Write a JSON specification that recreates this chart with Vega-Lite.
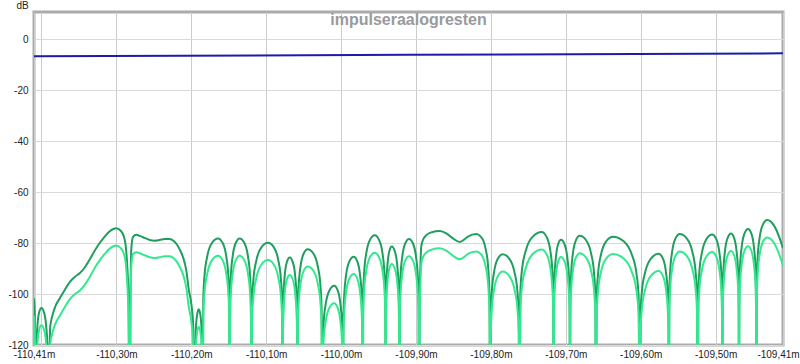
{
  "$schema": "https://vega.github.io/schema/vega-lite/v6.json",
  "width": 749,
  "height": 333,
  "autosize": {"type": "none"},
  "padding": {"left": 34, "top": 12, "right": 17, "bottom": 19},
  "background": "white",
  "title": {"text": "impulseraalogresten", "frame": "group", "anchor": "middle", "offset": -17, "dy": 24, "baseline": "alphabetic", "fontSize": 16, "fontWeight": "bold", "color": "#9a9a9a", "font": "Liberation Sans"},
  "config": {
    "view": {"stroke": "#ababab", "strokeWidth": 3},
    "axis": {"labelFont": "Liberation Sans", "titleFont": "Liberation Sans", "labelFontSize": 10, "labelColor": "#222222", "domain": false, "ticks": false, "gridColor": "#d6d6d6", "gridWidth": 1}
  },
  "datasets": {
    "blue": [
      {"t": -110.41, "v": -6.8},
      {"t": -109.91, "v": -6.2},
      {"t": -109.41, "v": -5.6}
    ],
    "g": [
      {"t": -110.4100, "a": -101.7, "b": -108.5},
      {"t": -110.4088, "a": -110, "b": -116.8},
      {"t": -110.4077, "a": -160, "b": -160},
      {"t": -110.4068, "a": -120, "b": -126.8},
      {"t": -110.4054, "a": -112.4, "b": -119.2},
      {"t": -110.4032, "a": -107.3, "b": -114.1},
      {"t": -110.4001, "a": -105.5, "b": -112.3},
      {"t": -110.3965, "a": -107.3, "b": -114.1},
      {"t": -110.3938, "a": -112.4, "b": -119.2},
      {"t": -110.3921, "a": -120, "b": -126.8},
      {"t": -110.3910, "a": -160, "b": -160},
      {"t": -110.3884, "a": -113, "b": -119.8},
      {"t": -110.3850, "a": -108, "b": -114.8},
      {"t": -110.3810, "a": -104.5, "b": -111.3},
      {"t": -110.3757, "a": -101.8, "b": -108.6},
      {"t": -110.3690, "a": -98.4, "b": -105.2},
      {"t": -110.3623, "a": -95.3, "b": -102.1},
      {"t": -110.3557, "a": -93.3, "b": -100.1},
      {"t": -110.3490, "a": -91.9, "b": -98.7},
      {"t": -110.3423, "a": -89.6, "b": -96.4},
      {"t": -110.3356, "a": -86.5, "b": -93.3},
      {"t": -110.3290, "a": -83, "b": -89.8},
      {"t": -110.3223, "a": -80, "b": -86.8},
      {"t": -110.3156, "a": -77.5, "b": -84.3},
      {"t": -110.3089, "a": -75.4, "b": -82.2},
      {"t": -110.3003, "a": -74.2, "b": -81},
      {"t": -110.2942, "a": -75.2, "b": -82},
      {"t": -110.2902, "a": -77.3, "b": -84.1},
      {"t": -110.2876, "a": -81, "b": -87.8},
      {"t": -110.2853, "a": -90, "b": -96.8},
      {"t": -110.2838, "a": -102, "b": -108.8},
      {"t": -110.2822, "a": -160, "b": -160},
      {"t": -110.2812, "a": -100, "b": -106.8},
      {"t": -110.2800, "a": -82, "b": -88.8},
      {"t": -110.2778, "a": -77.6, "b": -84.4},
      {"t": -110.2733, "a": -76.8, "b": -83.6},
      {"t": -110.2689, "a": -77.2, "b": -84},
      {"t": -110.2622, "a": -78, "b": -84.8},
      {"t": -110.2555, "a": -78.8, "b": -85.6},
      {"t": -110.2489, "a": -79.1, "b": -85.9},
      {"t": -110.2422, "a": -78.8, "b": -85.6},
      {"t": -110.2355, "a": -78.4, "b": -85.2},
      {"t": -110.2288, "a": -78.4, "b": -85.2},
      {"t": -110.2235, "a": -79.2, "b": -86},
      {"t": -110.2195, "a": -80.5, "b": -87.3},
      {"t": -110.2155, "a": -82.5, "b": -89.3},
      {"t": -110.2111, "a": -85.5, "b": -92.3},
      {"t": -110.2065, "a": -91, "b": -97.8},
      {"t": -110.2035, "a": -98, "b": -104.8},
      {"t": -110.1999, "a": -104, "b": -110.8},
      {"t": -110.1975, "a": -112, "b": -118.8},
      {"t": -110.1954, "a": -160, "b": -160},
      {"t": -110.1941, "a": -115, "b": -121.8},
      {"t": -110.1924, "a": -108.5, "b": -115.3},
      {"t": -110.1901, "a": -106, "b": -112.8},
      {"t": -110.1877, "a": -108.5, "b": -115.3},
      {"t": -110.1861, "a": -115, "b": -121.8},
      {"t": -110.1848, "a": -160, "b": -160},
      {"t": -110.1840, "a": -102.2, "b": -109},
      {"t": -110.1823, "a": -92.7, "b": -99.5},
      {"t": -110.1786, "a": -85.1, "b": -91.9},
      {"t": -110.1725, "a": -80, "b": -86.8},
      {"t": -110.1643, "a": -78.2, "b": -85},
      {"t": -110.1581, "a": -80, "b": -86.8},
      {"t": -110.1534, "a": -85.1, "b": -91.9},
      {"t": -110.1506, "a": -92.7, "b": -99.5},
      {"t": -110.1493, "a": -102.2, "b": -109},
      {"t": -110.1487, "a": -160, "b": -160},
      {"t": -110.1482, "a": -102.2, "b": -109},
      {"t": -110.1471, "a": -92.7, "b": -99.5},
      {"t": -110.1447, "a": -85.1, "b": -91.9},
      {"t": -110.1407, "a": -80, "b": -86.8},
      {"t": -110.1354, "a": -78.2, "b": -85},
      {"t": -110.1291, "a": -80, "b": -86.8},
      {"t": -110.1244, "a": -85.1, "b": -91.9},
      {"t": -110.1216, "a": -92.7, "b": -99.5},
      {"t": -110.1204, "a": -102.2, "b": -109},
      {"t": -110.1197, "a": -160, "b": -160},
      {"t": -110.1189, "a": -103.9, "b": -110.7},
      {"t": -110.1171, "a": -94.4, "b": -101.2},
      {"t": -110.1131, "a": -86.8, "b": -93.6},
      {"t": -110.1064, "a": -81.7, "b": -88.5},
      {"t": -110.0976, "a": -79.9, "b": -86.7},
      {"t": -110.0897, "a": -81.7, "b": -88.5},
      {"t": -110.0838, "a": -86.8, "b": -93.6},
      {"t": -110.0803, "a": -94.4, "b": -101.2},
      {"t": -110.0787, "a": -103.9, "b": -110.7},
      {"t": -110.0780, "a": -160, "b": -160},
      {"t": -110.0776, "a": -109.7, "b": -116.5},
      {"t": -110.0768, "a": -100.2, "b": -107},
      {"t": -110.0752, "a": -92.6, "b": -99.4},
      {"t": -110.0724, "a": -87.5, "b": -94.3},
      {"t": -110.0686, "a": -85.7, "b": -92.5},
      {"t": -110.0645, "a": -87.5, "b": -94.3},
      {"t": -110.0614, "a": -92.6, "b": -99.4},
      {"t": -110.0596, "a": -100.2, "b": -107},
      {"t": -110.0587, "a": -109.7, "b": -116.5},
      {"t": -110.0583, "a": -160, "b": -160},
      {"t": -110.0578, "a": -106.4, "b": -113.2},
      {"t": -110.0567, "a": -96.9, "b": -103.7},
      {"t": -110.0542, "a": -89.3, "b": -96.1},
      {"t": -110.0501, "a": -84.2, "b": -91},
      {"t": -110.0446, "a": -82.4, "b": -89.2},
      {"t": -110.0368, "a": -84.2, "b": -91},
      {"t": -110.0310, "a": -89.3, "b": -96.1},
      {"t": -110.0275, "a": -96.9, "b": -103.7},
      {"t": -110.0260, "a": -106.4, "b": -113.2},
      {"t": -110.0252, "a": -160, "b": -160},
      {"t": -110.0246, "a": -120.8, "b": -127.6},
      {"t": -110.0233, "a": -111.3, "b": -118.1},
      {"t": -110.0204, "a": -103.7, "b": -110.5},
      {"t": -110.0156, "a": -98.6, "b": -105.4},
      {"t": -110.0092, "a": -96.8, "b": -103.6},
      {"t": -110.0045, "a": -98.6, "b": -105.4},
      {"t": -110.0010, "a": -103.7, "b": -110.5},
      {"t": -109.9989, "a": -111.3, "b": -118.1},
      {"t": -109.9979, "a": -120.8, "b": -127.6},
      {"t": -109.9975, "a": -160, "b": -160},
      {"t": -109.9969, "a": -109.4, "b": -116.2},
      {"t": -109.9957, "a": -99.9, "b": -106.7},
      {"t": -109.9932, "a": -92.3, "b": -99.1},
      {"t": -109.9889, "a": -87.2, "b": -94},
      {"t": -109.9832, "a": -85.4, "b": -92.2},
      {"t": -109.9784, "a": -87.2, "b": -94},
      {"t": -109.9748, "a": -92.3, "b": -99.1},
      {"t": -109.9726, "a": -99.9, "b": -106.7},
      {"t": -109.9716, "a": -109.4, "b": -116.2},
      {"t": -109.9711, "a": -160, "b": -160},
      {"t": -109.9705, "a": -101, "b": -107.8},
      {"t": -109.9692, "a": -91.5, "b": -98.3},
      {"t": -109.9663, "a": -83.9, "b": -90.7},
      {"t": -109.9615, "a": -78.8, "b": -85.6},
      {"t": -109.9551, "a": -77, "b": -83.8},
      {"t": -109.9493, "a": -78.8, "b": -85.6},
      {"t": -109.9448, "a": -83.9, "b": -90.7},
      {"t": -109.9422, "a": -91.5, "b": -98.3},
      {"t": -109.9410, "a": -101, "b": -107.8},
      {"t": -109.9404, "a": -160, "b": -160},
      {"t": -109.9401, "a": -105.4, "b": -112.2},
      {"t": -109.9395, "a": -95.9, "b": -102.7},
      {"t": -109.9380, "a": -88.3, "b": -95.1},
      {"t": -109.9356, "a": -83.2, "b": -90},
      {"t": -109.9324, "a": -81.4, "b": -88.2},
      {"t": -109.9283, "a": -83.2, "b": -90},
      {"t": -109.9252, "a": -88.3, "b": -95.1},
      {"t": -109.9234, "a": -95.9, "b": -102.7},
      {"t": -109.9226, "a": -105.4, "b": -112.2},
      {"t": -109.9221, "a": -160, "b": -160},
      {"t": -109.9216, "a": -102.4, "b": -109.2},
      {"t": -109.9206, "a": -92.9, "b": -99.7},
      {"t": -109.9183, "a": -85.3, "b": -92.1},
      {"t": -109.9145, "a": -80.2, "b": -87},
      {"t": -109.9093, "a": -78.4, "b": -85.2},
      {"t": -109.9040, "a": -80.2, "b": -87},
      {"t": -109.9000, "a": -85.3, "b": -92.1},
      {"t": -109.8976, "a": -92.9, "b": -99.7},
      {"t": -109.8965, "a": -102.4, "b": -109.2},
      {"t": -109.8960, "a": -160, "b": -160},
      {"t": -109.8950, "a": -100, "b": -106.8},
      {"t": -109.8940, "a": -88, "b": -94.8},
      {"t": -109.8928, "a": -81, "b": -87.8},
      {"t": -109.8897, "a": -78.2, "b": -85},
      {"t": -109.8861, "a": -76.9, "b": -83.7},
      {"t": -109.8790, "a": -75.8, "b": -82.6},
      {"t": -109.8683, "a": -75.3, "b": -82.1},
      {"t": -109.8590, "a": -76.3, "b": -83.1},
      {"t": -109.8506, "a": -78.2, "b": -85},
      {"t": -109.8416, "a": -79.6, "b": -86.4},
      {"t": -109.8363, "a": -78.8, "b": -85.6},
      {"t": -109.8306, "a": -77.5, "b": -84.3},
      {"t": -109.8193, "a": -76.5, "b": -83.3},
      {"t": -109.8136, "a": -77.5, "b": -84.3},
      {"t": -109.8105, "a": -78.8, "b": -85.6},
      {"t": -109.8069, "a": -82.5, "b": -89.3},
      {"t": -109.8039, "a": -88.6, "b": -95.4},
      {"t": -109.8019, "a": -100, "b": -106.8},
      {"t": -109.8007, "a": -160, "b": -160},
      {"t": -109.8000, "a": -108.4, "b": -115.2},
      {"t": -109.7987, "a": -98.9, "b": -105.7},
      {"t": -109.7957, "a": -91.3, "b": -98.1},
      {"t": -109.7908, "a": -86.2, "b": -93},
      {"t": -109.7842, "a": -84.4, "b": -91.2},
      {"t": -109.7753, "a": -86.2, "b": -93},
      {"t": -109.7686, "a": -91.3, "b": -98.1},
      {"t": -109.7646, "a": -98.9, "b": -105.7},
      {"t": -109.7628, "a": -108.4, "b": -115.2},
      {"t": -109.7619, "a": -160, "b": -160},
      {"t": -109.7607, "a": -99.7, "b": -106.5},
      {"t": -109.7584, "a": -90.2, "b": -97},
      {"t": -109.7530, "a": -82.6, "b": -89.4},
      {"t": -109.7441, "a": -77.5, "b": -84.3},
      {"t": -109.7322, "a": -75.7, "b": -82.5},
      {"t": -109.7258, "a": -77.5, "b": -84.3},
      {"t": -109.7209, "a": -82.6, "b": -89.4},
      {"t": -109.7181, "a": -90.2, "b": -97},
      {"t": -109.7168, "a": -99.7, "b": -106.5},
      {"t": -109.7161, "a": -160, "b": -160},
      {"t": -109.7158, "a": -102.7, "b": -109.5},
      {"t": -109.7150, "a": -93.2, "b": -100},
      {"t": -109.7132, "a": -85.6, "b": -92.4},
      {"t": -109.7103, "a": -80.5, "b": -87.3},
      {"t": -109.7064, "a": -78.7, "b": -85.5},
      {"t": -109.7016, "a": -80.5, "b": -87.3},
      {"t": -109.6980, "a": -85.6, "b": -92.4},
      {"t": -109.6958, "a": -93.2, "b": -100},
      {"t": -109.6949, "a": -102.7, "b": -109.5},
      {"t": -109.6944, "a": -160, "b": -160},
      {"t": -109.6939, "a": -101.2, "b": -108},
      {"t": -109.6928, "a": -91.7, "b": -98.5},
      {"t": -109.6905, "a": -84.1, "b": -90.9},
      {"t": -109.6866, "a": -79, "b": -85.8},
      {"t": -109.6814, "a": -77.2, "b": -84},
      {"t": -109.6727, "a": -79, "b": -85.8},
      {"t": -109.6662, "a": -84.1, "b": -90.9},
      {"t": -109.6623, "a": -91.7, "b": -98.5},
      {"t": -109.6605, "a": -101.2, "b": -108},
      {"t": -109.6597, "a": -160, "b": -160},
      {"t": -109.6588, "a": -101.5, "b": -108.3},
      {"t": -109.6569, "a": -92, "b": -98.8},
      {"t": -109.6529, "a": -84.4, "b": -91.2},
      {"t": -109.6460, "a": -79.3, "b": -86.1},
      {"t": -109.6370, "a": -77.5, "b": -84.3},
      {"t": -109.6227, "a": -79.3, "b": -86.1},
      {"t": -109.6120, "a": -84.4, "b": -91.2},
      {"t": -109.6056, "a": -92, "b": -98.8},
      {"t": -109.6027, "a": -101.5, "b": -108.3},
      {"t": -109.6013, "a": -160, "b": -160},
      {"t": -109.6003, "a": -108.2, "b": -115},
      {"t": -109.5983, "a": -98.7, "b": -105.5},
      {"t": -109.5937, "a": -91.1, "b": -97.9},
      {"t": -109.5861, "a": -86, "b": -92.8},
      {"t": -109.5760, "a": -84.2, "b": -91},
      {"t": -109.5705, "a": -86, "b": -92.8},
      {"t": -109.5664, "a": -91.1, "b": -97.9},
      {"t": -109.5640, "a": -98.7, "b": -105.5},
      {"t": -109.5629, "a": -108.2, "b": -115},
      {"t": -109.5623, "a": -160, "b": -160},
      {"t": -109.5618, "a": -100.5, "b": -107.3},
      {"t": -109.5606, "a": -91, "b": -97.8},
      {"t": -109.5580, "a": -83.4, "b": -90.2},
      {"t": -109.5537, "a": -78.3, "b": -85.1},
      {"t": -109.5479, "a": -76.5, "b": -83.3},
      {"t": -109.5383, "a": -78.3, "b": -85.1},
      {"t": -109.5311, "a": -83.4, "b": -90.2},
      {"t": -109.5268, "a": -91, "b": -97.8},
      {"t": -109.5248, "a": -100.5, "b": -107.3},
      {"t": -109.5239, "a": -160, "b": -160},
      {"t": -109.5231, "a": -100.7, "b": -107.5},
      {"t": -109.5216, "a": -91.2, "b": -98},
      {"t": -109.5181, "a": -83.6, "b": -90.4},
      {"t": -109.5123, "a": -78.5, "b": -85.3},
      {"t": -109.5045, "a": -76.7, "b": -83.5},
      {"t": -109.4991, "a": -78.5, "b": -85.3},
      {"t": -109.4950, "a": -83.6, "b": -90.4},
      {"t": -109.4925, "a": -91.2, "b": -98},
      {"t": -109.4915, "a": -100.7, "b": -107.5},
      {"t": -109.4909, "a": -160, "b": -160},
      {"t": -109.4905, "a": -100.3, "b": -107.1},
      {"t": -109.4895, "a": -90.8, "b": -97.6},
      {"t": -109.4875, "a": -83.2, "b": -90},
      {"t": -109.4840, "a": -78.1, "b": -84.9},
      {"t": -109.4794, "a": -76.3, "b": -83.1},
      {"t": -109.4752, "a": -78.1, "b": -84.9},
      {"t": -109.4720, "a": -83.2, "b": -90},
      {"t": -109.4700, "a": -90.8, "b": -97.6},
      {"t": -109.4692, "a": -100.3, "b": -107.1},
      {"t": -109.4687, "a": -160, "b": -160},
      {"t": -109.4683, "a": -98.5, "b": -105.3},
      {"t": -109.4673, "a": -89, "b": -95.8},
      {"t": -109.4651, "a": -81.4, "b": -88.2},
      {"t": -109.4615, "a": -76.3, "b": -83.1},
      {"t": -109.4567, "a": -74.5, "b": -81.3},
      {"t": -109.4522, "a": -76.3, "b": -83.1},
      {"t": -109.4489, "a": -81.4, "b": -88.2},
      {"t": -109.4469, "a": -89, "b": -95.8},
      {"t": -109.4460, "a": -98.5, "b": -105.3},
      {"t": -109.4455, "a": -160, "b": -160},
      {"t": -109.4449, "a": -95, "b": -101.8},
      {"t": -109.4438, "a": -85.5, "b": -92.3},
      {"t": -109.4412, "a": -77.9, "b": -84.7},
      {"t": -109.4369, "a": -72.8, "b": -79.6},
      {"t": -109.4311, "a": -71, "b": -77.8},
      {"t": -109.4264, "a": -71.6, "b": -78.4},
      {"t": -109.4224, "a": -73, "b": -79.8},
      {"t": -109.4184, "a": -75.2, "b": -82},
      {"t": -109.4144, "a": -78.2, "b": -85},
      {"t": -109.4100, "a": -82, "b": -88.8}
    ]
  },
  "encoding": {
    "x": {
      "field": "t", "type": "quantitative",
      "scale": {"domain": [-110.41, -109.41], "nice": false, "zero": false},
      "axis": {
        "title": null,
        "values": [-110.41, -110.4, -110.3, -110.2, -110.1, -110.0, -109.9, -109.8, -109.7, -109.6, -109.5, -109.41],
        "labelExpr": "(datum.value > -110.405 && datum.value < -110.395) ? '' : '-' + replace(format(-datum.value, '.2f'), '.', ',') + 'm'",
        "labelPadding": 4,
        "labelOverlap": false,
        "labelBound": false,
        "labelFlush": false,
        "labelOffset": {"condition": {"test": "datum.value > -109.42", "value": -5}, "value": 0},
        "grid": true,
        "gridColor": "#cccccc"
      }
    }
  },
  "layer": [
    {
      "data": {"name": "blue"},
      "mark": {"type": "line", "color": "#1c1caa", "strokeWidth": 2, "clip": true},
      "encoding": {
        "y": {
          "field": "v", "type": "quantitative",
          "scale": {"domain": [-120, 10.6], "nice": false, "zero": false},
          "axis": {
            "title": "dB", "titleAngle": 0, "titleX": -12, "titleY": -4, "titleAlign": "center", "titleBaseline": "alphabetic",
            "titleFontSize": 10, "titleFontWeight": "normal", "titleColor": "#222222",
            "values": [0, -20, -40, -60, -80, -100, -120],
            "labelExpr": "toString(datum.value)",
            "labelPadding": 6,
            "grid": true,
            "gridColor": "#dadada"
          }
        }
      }
    },
    {
      "data": {"name": "g"},
      "mark": {"type": "line", "color": "#1f9e5e", "strokeWidth": 2, "interpolate": "monotone", "clip": true},
      "encoding": {"y": {"field": "a", "type": "quantitative"}}
    },
    {
      "data": {"name": "g"},
      "mark": {"type": "line", "color": "#33e88e", "strokeWidth": 2, "interpolate": "monotone", "clip": true},
      "encoding": {"y": {"field": "b", "type": "quantitative"}}
    }
  ]
}
